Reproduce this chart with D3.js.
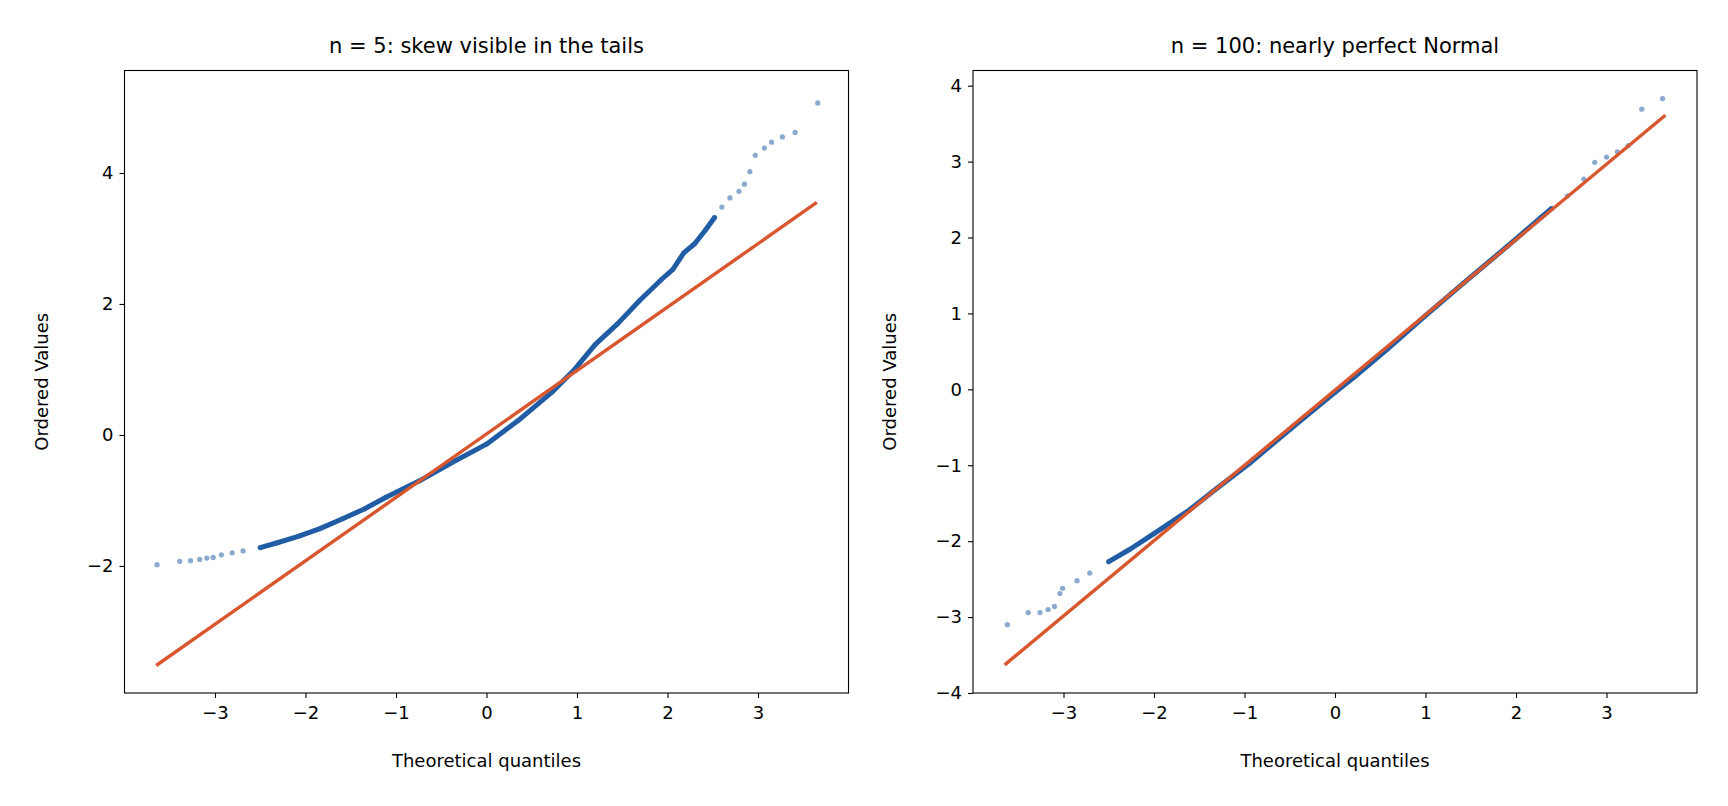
<!DOCTYPE html>
<html><head><meta charset="utf-8">
<script src="https://cdn.jsdelivr.net/npm/d3@7"></script>
<style>body{margin:0;background:#fff}svg{font-family:"DejaVu Sans",sans-serif}</style>
</head><body><svg id="c" width="1728" height="806"></svg>
<script>
// Panel 1 (n = 5) ordered values vs theoretical quantiles
const q5 = [-3.64,-3.39,-3.27,-3.17,-3.09,-3.02,-2.93,-2.81,-2.69,-2.5,-2.32,-2.08,-1.84,-1.59,-1.35,-1.11,-0.74,-0.38,0,0.35,0.72,0.96,1.2,1.45,1.69,1.93,2.06,2.18,2.3,2.42,2.52,2.6,2.69,2.79,2.85,2.91,2.97,3.07,3.15,3.27,3.41,3.66];
const v5 = [-1.98,-1.93,-1.92,-1.9,-1.88,-1.87,-1.83,-1.8,-1.77,-1.72,-1.65,-1.55,-1.43,-1.28,-1.13,-0.95,-0.7,-0.42,-0.14,0.22,0.65,0.98,1.38,1.7,2.05,2.37,2.53,2.78,2.92,3.13,3.32,3.48,3.62,3.72,3.83,4.02,4.27,4.38,4.47,4.55,4.62,5.07];
const fit5 = [[-3.65,-3.52],[3.65,3.55]];
// Panel 2 (n = 100)
const q100 = [-3.62,-3.39,-3.26,-3.17,-3.1,-3.04,-3.01,-2.85,-2.71,-2.5,-2.27,-2.0,-1.61,-1.3,-0.95,-0.5,0,0.23,0.57,0.99,1.42,1.9,2.27,2.39,2.57,2.75,2.87,3.0,3.12,3.24,3.39,3.62];
const v100 = [-3.10,-2.94,-2.94,-2.9,-2.86,-2.69,-2.62,-2.52,-2.42,-2.27,-2.11,-1.9,-1.59,-1.3,-0.98,-0.53,-0.04,0.18,0.52,0.96,1.40,1.88,2.26,2.38,2.55,2.77,2.99,3.06,3.13,3.21,3.69,3.83];
const fit100 = [[-3.65,-3.63],[3.65,3.61]];
const xTicks = [-3,-2,-1,0,1,2,3];
const yTicks5 = [-2,0,2,4];
const yTicks100 = [-4,-3,-2,-1,0,1,2,3,4];
const titles = ["n = 5: skew visible in the tails","n = 100: nearly perfect Normal"];

const svg = d3.select("#c");
function panel(x0,x1,ydom,yt,qs,vs,fit,title){
  const x = d3.scaleLinear().domain([-4,4]).range([x0,x1]);
  const y = d3.scaleLinear().domain(ydom).range([693,70.5]);
  const g = svg.append("g");
  const pts = qs.map((q,i)=>[q,vs[i]]);
  const dense = pts.filter(p=>Math.abs(p[0])<2.55);
  g.append("path").datum(dense).attr("d",d3.line().x(d=>x(d[0])).y(d=>y(d[1])))
   .attr("fill","none").attr("stroke","#1f5ca4").attr("stroke-width",5).attr("stroke-linecap","round").attr("stroke-linejoin","round");
  g.selectAll("circle").data(pts).join("circle").attr("cx",d=>x(d[0])).attr("cy",d=>y(d[1])).attr("r",2.6)
   .attr("fill","#2a63a8").attr("fill-opacity",0.55);
  g.append("line").attr("x1",x(fit[0][0])).attr("y1",y(fit[0][1])).attr("x2",x(fit[1][0])).attr("y2",y(fit[1][1]))
   .attr("stroke","#d9572f").attr("stroke-width",3.4);
  const fmt = d=>d<0?"\u2212"+(-d):d;
  const xa = g.append("g").attr("transform","translate(0,693)").call(d3.axisBottom(x).tickValues(xTicks).tickSize(5).tickPadding(8).tickFormat(fmt));
  const ya = g.append("g").attr("transform",`translate(${x0},0)`).call(d3.axisLeft(y).tickValues(yt).tickSize(5).tickPadding(6).tickFormat(fmt));
  [xa,ya].forEach(a=>{a.selectAll("text").attr("font-size",18).attr("fill","#000").attr("font-family","DejaVu Sans");a.select(".domain").remove();a.selectAll("line").attr("stroke","#000").attr("stroke-width",1.1);});
  g.append("rect").attr("x",x0).attr("y",70.5).attr("width",x1-x0).attr("height",693-70.5).attr("fill","none").attr("stroke","#000").attr("stroke-width",1.1);
  g.append("text").attr("x",(x0+x1)/2).attr("y",53).attr("text-anchor","middle").attr("font-size",21).text(title);
  g.append("text").attr("x",(x0+x1)/2).attr("y",767).attr("text-anchor","middle").attr("font-size",18).text("Theoretical quantiles");
  g.append("text").attr("transform",`translate(${x0-77},${(70.5+693)/2}) rotate(-90)`).attr("text-anchor","middle").attr("font-size",18).text("Ordered Values");
}
panel(124.5,848.5,[-3.94,5.565],yTicks5,q5,v5,fit5,titles[0]);
panel(973,1697,[-4,4.2],yTicks100,q100,v100,fit100,titles[1]);
</script></body></html>
